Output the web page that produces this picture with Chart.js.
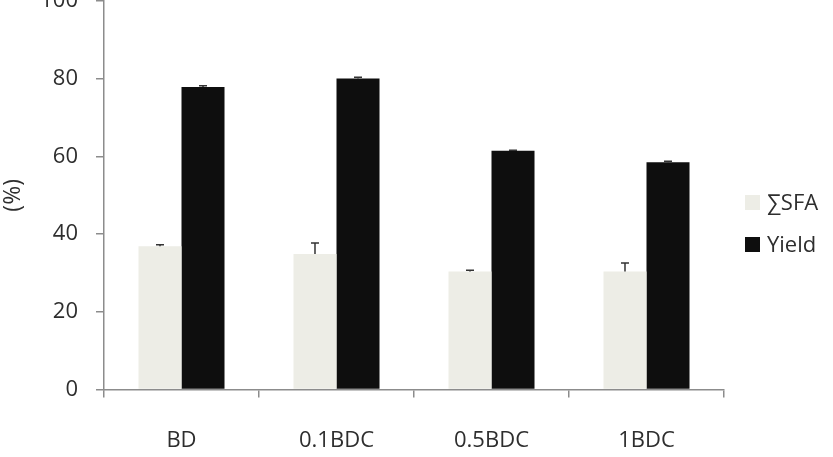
<!DOCTYPE html>
<html>
<head>
<meta charset="utf-8">
<script src="https://cdn.jsdelivr.net/npm/chart.js@4/dist/chart.umd.min.js"></script>
<style>
  html, body { margin: 0; padding: 0; background: #fff; overflow: hidden; }
  #wrap { position: relative; width: 833px; height: 457px; overflow: hidden; }
  #chart { position: absolute; left: 0; top: -30px; }
</style>
</head>
<body>
<div id="wrap"><canvas id="chart" width="833" height="487"></canvas></div>
<script>
// ── DATA ─────────────────────────────────────────────
const categories = ['BD', '0.1BDC', '0.5BDC', '1BDC'];
const sfaValues  = [36.9, 34.9, 30.4, 30.4];
const sfaErr     = [0.4, 2.8, 0.3, 2.2];
const yieldValues = [77.9, 80.1, 61.5, 58.5];
const yieldErr    = [0.3, 0.3, 0.1, 0.3];
const yTicks = [0, 20, 40, 60, 80, 100];

const FONT = "'Open Sans', 'DejaVu Sans', sans-serif";
const TXT = '#2e2e2e';
const AXIS = '#8c8c8c';

// ── ERROR BARS (upper half only) ─────────────────────
const errorBars = {
  id: 'errorBars',
  afterDatasetsDraw(chart) {
    const { ctx, scales: { y } } = chart;
    ctx.save();
    ctx.strokeStyle = '#333';
    ctx.lineWidth = 1.5;
    chart.data.datasets.forEach((ds, di) => {
      const meta = chart.getDatasetMeta(di);
      meta.data.forEach((bar, i) => {
        const v = ds.data[i], e = ds.err[i];
        const y0 = y.getPixelForValue(v);
        const y1 = y.getPixelForValue(v + e);
        ctx.beginPath();
        ctx.moveTo(bar.x, y0); ctx.lineTo(bar.x, y1);
        ctx.moveTo(bar.x - 4, y1); ctx.lineTo(bar.x + 4, y1);
        ctx.stroke();
      });
    });
    ctx.restore();
  }
};

// ── LEGEND (right side) ──────────────────────────────
const sideLegend = {
  id: 'sideLegend',
  afterDraw(chart) {
    const { ctx } = chart;
    const rows = [232.5, 274.5];
    ctx.save();
    ctx.font = `22px ${FONT}`;
    ctx.textBaseline = 'middle';
    chart.data.datasets.forEach((ds, i) => {
      ctx.fillStyle = ds.backgroundColor;
      ctx.fillRect(745, rows[i] - 7.5, 15, 15);
      ctx.fillStyle = TXT;
      ctx.fillText(ds.label, 767, rows[i] + 1);
    });
    ctx.restore();
  }
};

new Chart(document.getElementById('chart'), {
  type: 'bar',
  data: {
    labels: categories,
    datasets: [
      { label: '∑SFA', data: sfaValues, err: sfaErr, backgroundColor: '#ededE6',
        categoryPercentage: 0.555, barPercentage: 1.0 },
      { label: 'Yield', data: yieldValues, err: yieldErr, backgroundColor: '#0e0e0e',
        categoryPercentage: 0.555, barPercentage: 1.0 },
    ],
  },
  options: {
    responsive: false,
    animation: false,
    layout: { padding: { top: 28.7, right: 109, left: 0, bottom: 0 } },
    plugins: { legend: { display: false }, tooltip: { enabled: false } },
    scales: {
      x: {
        grid: { offset: true, drawOnChartArea: false, tickLength: 8, color: AXIS, lineWidth: 1.5 },
        border: { color: AXIS, width: 1.5 },
        ticks: { color: TXT, font: { size: 22, family: FONT }, padding: 30 },
        afterFit(s) { s.height = 67.5; },
      },
      y: {
        min: 0, max: 100,
        afterBuildTicks(s) { s.ticks = yTicks.map(v => ({ value: v })); },
        grid: { drawOnChartArea: false, tickLength: 8, color: AXIS, lineWidth: 1.5 },
        border: { color: AXIS, width: 1.5 },
        ticks: { color: TXT, font: { size: 22, family: FONT }, padding: 18 },
        title: { display: true, text: '(%)', color: TXT, font: { size: 23, family: FONT }, padding: { top: 0, bottom: 0 } },
        afterFit(s) { s.width = 104; },
      },
    },
  },
  plugins: [errorBars, sideLegend],
});
</script>
</body>
</html>
